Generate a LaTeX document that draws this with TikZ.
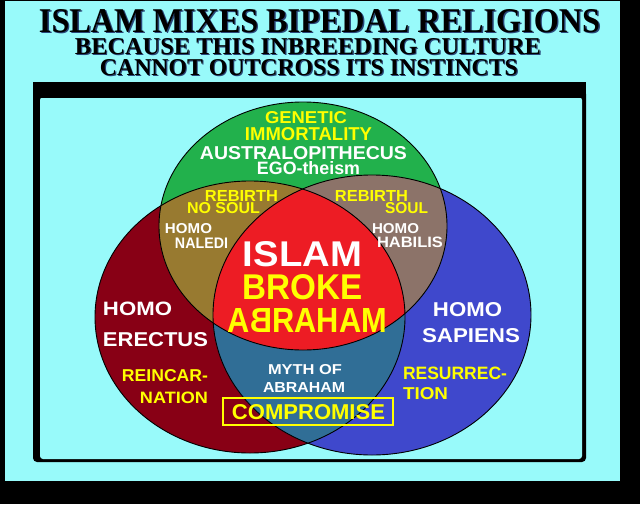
\documentclass[tikz,border=0pt]{standalone}
\usepackage{fontspec}
\setmainfont{Liberation Sans}
\newfontfamily\titlefont{Liberation Serif}
\usepackage{graphicx}
\definecolor{bgcyan}{RGB}{152,250,250}
\definecolor{vgreen}{RGB}{34,177,76}
\definecolor{vdred}{RGB}{136,0,21}
\definecolor{vblue}{RGB}{63,72,204}
\definecolor{volive}{RGB}{152,122,48}
\definecolor{vtaupe}{RGB}{140,115,105}
\definecolor{vsteel}{RGB}{48,110,150}
\definecolor{vred}{RGB}{237,28,36}
\definecolor{vyellow}{RGB}{255,255,0}
\definecolor{tshadow}{RGB}{40,70,120}
\newcommand{\fitbox}[3]{\resizebox{#1pt}{#2pt}{#3}}
\newcommand{\shadowtxt}[1]{\rlap{\kern0.45pt\raisebox{-0.35pt}{\color{tshadow}#1}}#1}
\newcommand{\GreenE}{(303,226) ellipse [x radius=144, y radius=124]}
\newcommand{\RedE}{(250,317) ellipse [x radius=155, y radius=136]}
\newcommand{\BlueE}{(372,315) ellipse [x radius=159, y radius=140]}
\begin{document}
\begin{tikzpicture}[x=1pt,y=-1pt,
  lab/.style={inner sep=0pt, anchor=center, font=\bfseries},
  wlab/.style={lab, text=white},
  ylab/.style={lab, text=vyellow},
  ttl/.style={lab, text=black, font=\titlefont\bfseries},
  outline/.style={draw=black, line width=0.9pt}]
\useasboundingbox (0,0) rectangle (640,504);
% background
\fill[black] (0,0) rectangle (640,504);
\fill[bgcyan] (5,1) rectangle (620,481);
% title
\node[ttl] (t1) at (319.5,21.5) {\fitbox{561}{23}{\shadowtxt{ISLAM MIXES BIPEDAL RELIGIONS}}};
\node[ttl] (t2) at (308,47.5) {\fitbox{466}{16}{\shadowtxt{BECAUSE THIS INBREEDING CULTURE}}};
\node[ttl] (t3) at (309,68.5) {\fitbox{418}{16}{\shadowtxt{CANNOT OUTCROSS ITS INSTINCTS}}};
% inner frame
\fill[black] (33,82) rectangle (586,97);
\fill[black, rounded corners=4] (33,90) -- (33,462) -- (586,462) -- (586,90) -- cycle;
\fill[bgcyan, rounded corners=3] (40,97) -- (40,459) -- (582,459) -- (582,97) -- cycle;
\fill[black] (40,95) rectangle (582,97.5);
% Venn fills
\fill[vdred] \RedE;
\fill[vblue] \BlueE;
\fill[vgreen] \GreenE;
\begin{scope}\clip \RedE; \fill[volive] \GreenE; \end{scope}
\begin{scope}\clip \BlueE; \fill[vtaupe] \GreenE; \end{scope}
\begin{scope}\clip \RedE; \fill[vsteel] \BlueE; \end{scope}
\begin{scope}\clip \RedE; \clip \BlueE; \fill[vred] \GreenE; \end{scope}
\draw[outline] \RedE;
\draw[outline] \BlueE;
\draw[outline] \GreenE;
% top (green) texts
\node[ylab] (g1) at (306,118) {\fitbox{82}{12}{GENETIC}};
\node[ylab] (g2) at (308.5,134.5) {\fitbox{127}{13}{IMMORTALITY}};
\node[wlab] (g3) at (303.5,153.5) {\fitbox{207}{13}{AUSTRALOPITHECUS}};
\node[wlab] (g4) at (308.5,168.5) {\fitbox{103}{13}{EGO-theism}};
% left overlap
\node[ylab] (l1) at (241.5,195.5) {\fitbox{73}{11}{REBIRTH}};
\node[ylab] (l2) at (223.5,208.5) {\fitbox{73}{11}{NO SOUL}};
\node[wlab] (l3) at (188.5,229) {\fitbox{47}{10}{HOMO}};
\node[wlab] (l4) at (201.5,243.5) {\fitbox{53}{10.5}{NALEDI}};
% right overlap
\node[ylab] (r1) at (371.5,195.5) {\fitbox{73}{11}{REBIRTH}};
\node[ylab] (r2) at (406.5,208.5) {\fitbox{43}{11}{SOUL}};
\node[wlab] (r3) at (395.5,228.5) {\fitbox{47}{10}{HOMO}};
\node[wlab] (r4) at (410,242.5) {\fitbox{66}{10.5}{HABILIS}};
% centre
\node[wlab] (c1) at (302.5,254.5) {\fitbox{119}{25}{ISLAM}};
\node[ylab] (c2) at (303,287.5) {\fitbox{120}{25}{BROKE}};
\node[ylab] (c3) at (307.5,320) {\fitbox{159}{24}{A\reflectbox{B}RAHAM}};
% left circle
\node[wlab] (e1) at (137.5,308.5) {\fitbox{69}{13.5}{HOMO}};
\node[wlab] (e2) at (155.5,339.5) {\fitbox{105}{14}{ERECTUS}};
\node[ylab] (e3) at (165,376) {\fitbox{86}{12}{REINCAR-}};
\node[ylab] (e4) at (174,397.5) {\fitbox{68}{11.5}{NATION}};
% right circle
\node[wlab] (s1) at (467.5,309.5) {\fitbox{69}{14}{HOMO}};
\node[wlab] (s2) at (471,335.5) {\fitbox{98}{14}{SAPIENS}};
\node[ylab] (s3) at (455,373.5) {\fitbox{104}{12.5}{RESURREC-}};
\node[ylab] (s4) at (425.5,394) {\fitbox{45}{12}{TION}};
% bottom overlap
\node[wlab] (m1) at (305,370) {\fitbox{74}{10}{MYTH OF}};
\node[wlab] (m2) at (304,387) {\fitbox{82}{10}{ABRAHAM}};
\node[draw=vyellow, line width=2, minimum width=170, minimum height=27, inner sep=0pt] (cbox) at (308,411.5) {};
\node[ylab] (m3) at (308.5,412.5) {\fitbox{153}{15}{COMPROMISE}};
\end{tikzpicture}
\end{document}
